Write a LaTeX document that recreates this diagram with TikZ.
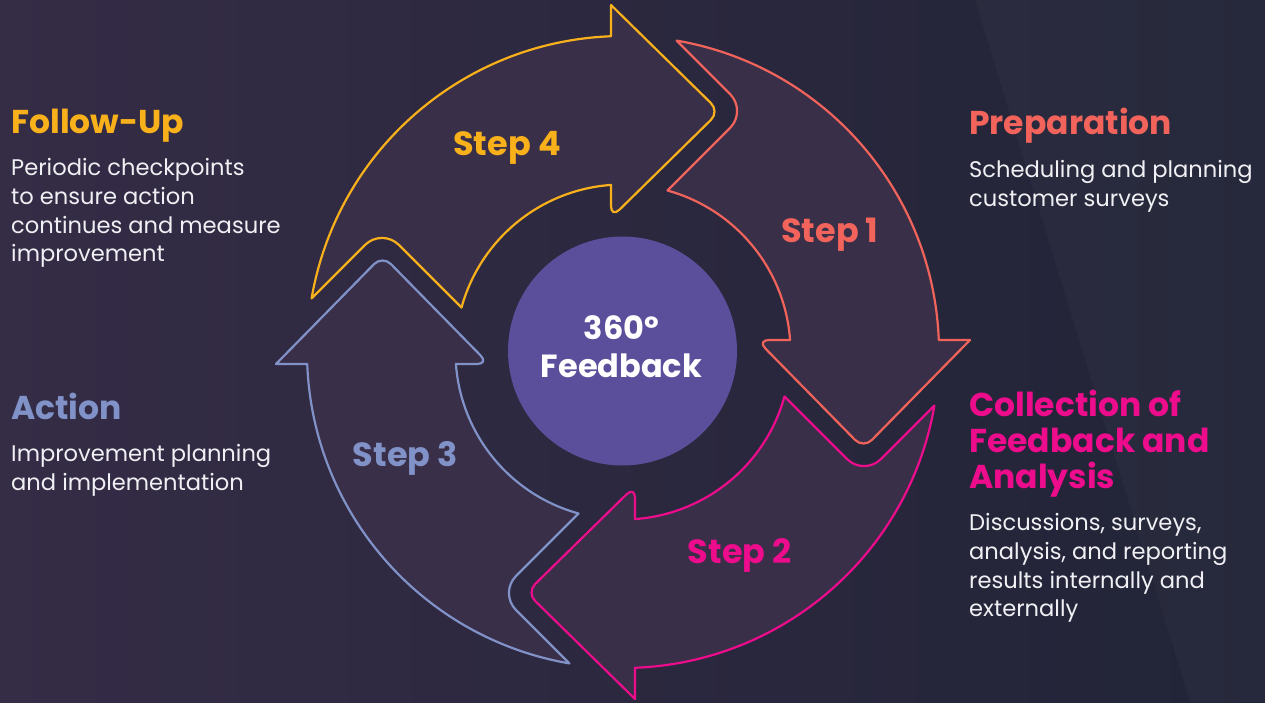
\documentclass[tikz,border=0pt]{standalone}
\usepackage{fontspec}
\setmainfont{Poppins}
\usetikzlibrary{positioning}

\definecolor{bgleft}{HTML}{352C46}
\definecolor{bgright}{HTML}{212437}
\definecolor{ringfill}{HTML}{3A2F48}
\definecolor{hubfill}{HTML}{5B4F9B}
\definecolor{stepone}{HTML}{F2645B}
\definecolor{steptwo}{HTML}{EC0C8C}
\definecolor{stepthree}{HTML}{8192C8}
\definecolor{stepfour}{HTML}{F9B11B}
\definecolor{bodytext}{HTML}{F0F0F4}

\tikzset{
  steparrow/.style={draw=#1, line width=2.2pt, fill=ringfill, line join=round},
  steplabel/.style={font=\fontsize{33.5}{36}\selectfont\bfseries, text=#1, inner sep=0pt, anchor=base},
  heading/.style={font=\fontsize{33}{36}\selectfont\bfseries, text=#1, inner sep=0pt, anchor=base west, align=left},
  blurb/.style={font=\fontsize{22.6}{28.7}\selectfont, text=bodytext, inner sep=0pt, anchor=base west, align=left},
  hub/.style={circle, fill=hubfill, minimum size=229pt, inner sep=0pt},
  hubtext/.style={align=center, text=white, inner sep=0pt, anchor=base,
    font=\fontsize{32}{37.5}\selectfont\bfseries}
}

\begin{document}
\begin{tikzpicture}[x=1pt, y=-1pt]
  \useasboundingbox (0,0) rectangle (1265,702);

  % background
  \shade[left color=bgleft, right color=bgright] (0,0) rectangle (1265,702);
  \fill[white, opacity=0.025] (975,0) -- (1265,0) -- (1265,702) -- (1190,702) -- cycle;

  % the four arrows of the ring
  \foreach \rot/\col in {0/stepone, -90/steptwo, -180/stepthree, -270/stepfour} {
    \begin{scope}[shift={(623,352)}, y=1pt, rotate=\rot]
      \draw[steparrow=\col] (80.23:316) arc[start angle=80.23, end angle=2.18, radius=316]
        -- (347,12) [rounded corners=12pt] -- (240.5,-96.5) -- (134,12) [sharp corners] -- (167.07,12)
        arc[start angle=4.11, end angle=74.6, radius=167.5] [rounded corners=24pt] -- (124,241)
        [sharp corners] -- cycle;
    \end{scope}
  }

  % centre
  \node[hub] (hub) at (622.5,351) {};
  \node[hubtext] (hubtitle) at (621.5,377.3) {360º\\Feedback};

  % step labels
  \node[steplabel=stepone] (lblone) at (829.8,242.7) {Step 1};
  \node[steplabel=steptwo] (lbltwo) at (739.8,563.3) {Step 2};
  \node[steplabel=stepthree] (lblthree) at (405.4,466.7) {Step 3};
  \node[steplabel=stepfour] (lblfour) at (507,155) {Step 4};

  % left column
  \node[heading=stepfour] (followup) at (11,133.3) {Follow-Up};
  \node[blurb] (followtext) at (11,261.7) {Periodic checkpoints\\to ensure action\\continues and measure\\improvement};
  \node[heading=stepthree] (action) at (11,419.3) {Action};
  \node[blurb] (actiontext) at (11,490) {Improvement planning\\and implementation};

  % right column
  \node[heading=stepone] (prep) at (969,134.3) {Preparation};
  \node[blurb] (preptext) at (969,206) {Scheduling and planning\\customer surveys};
  \node[heading=steptwo] (collect) at (969,488) {Collection of\\Feedback and\\Analysis};
  \node[blurb] (collecttext) at (969,616.7) {Discussions, surveys,\\analysis, and reporting\\results internally and\\externally};
\end{tikzpicture}
\end{document}
